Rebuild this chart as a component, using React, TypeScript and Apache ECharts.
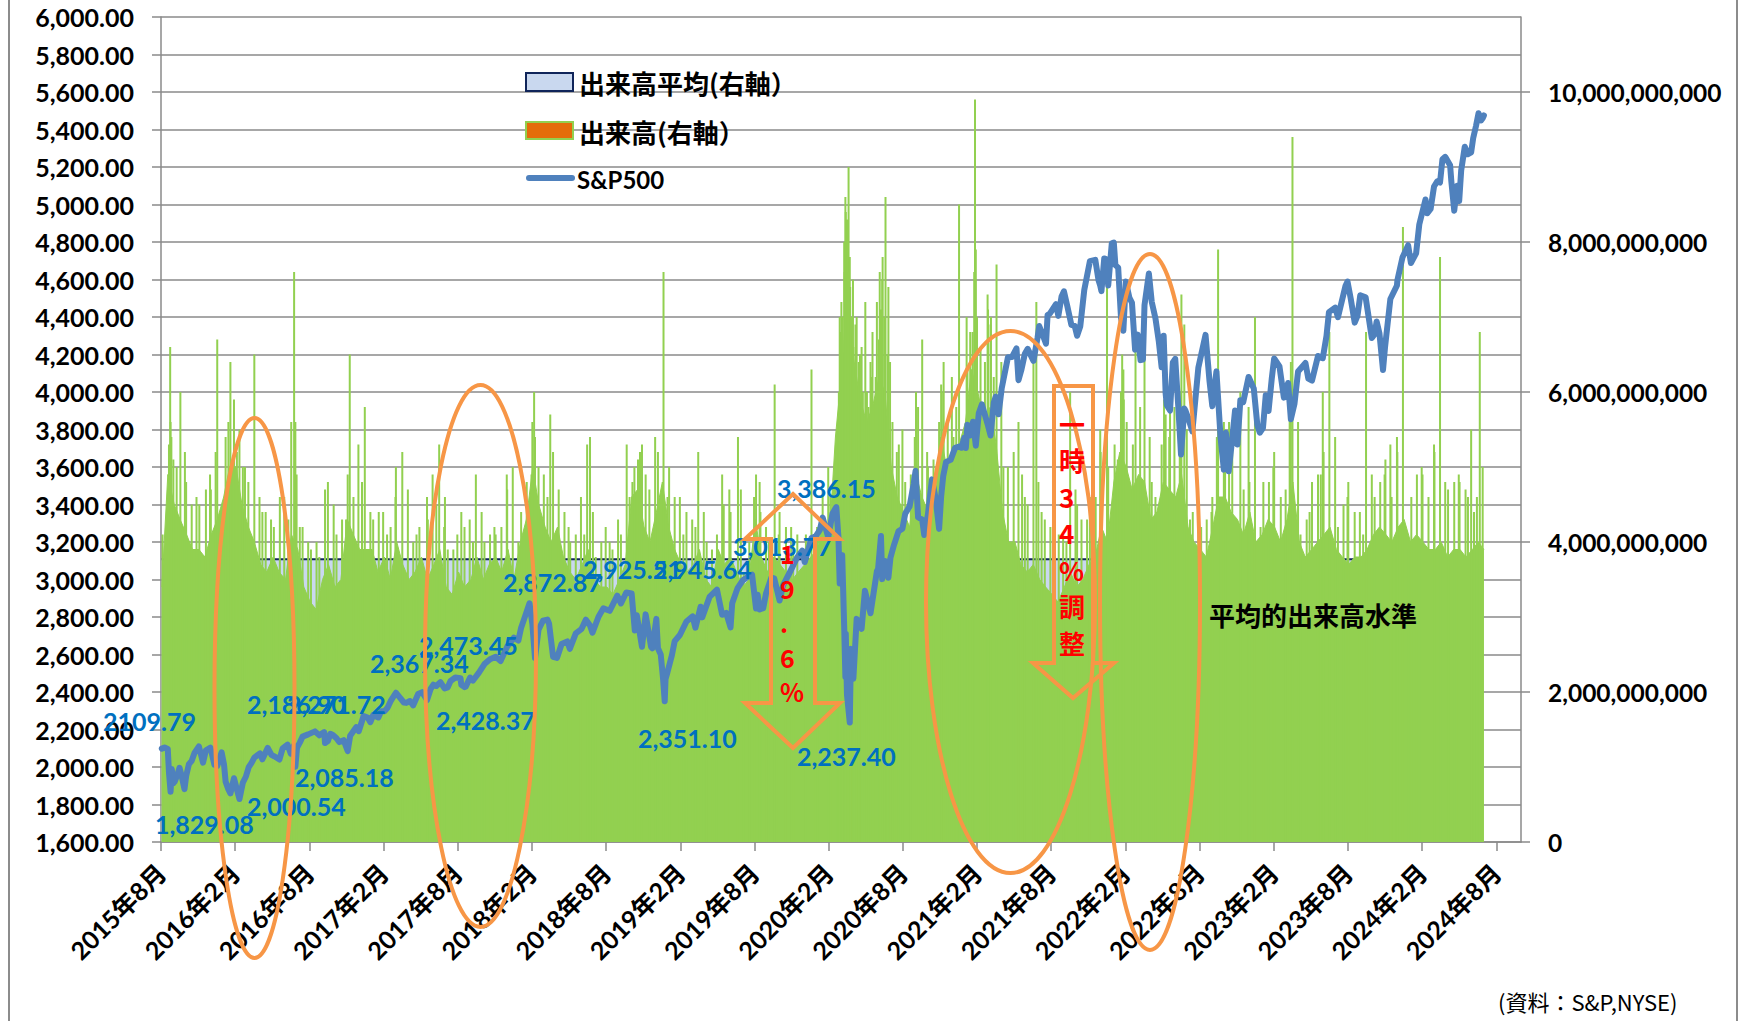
import React, { useEffect, useRef } from 'react';
import * as echarts from 'echarts';

// ---------- tick labels ----------
const xTickLabels = [
  '2015年8月', '2016年2月', '2016年8月', '2017年2月', '2017年8月', '2018年2月', '2018年8月',
  '2019年2月', '2019年8月', '2020年2月', '2020年8月', '2021年2月', '2021年8月', '2022年2月',
  '2022年8月', '2023年2月', '2023年8月', '2024年2月', '2024年8月',
];

// ---------- S&P500 closes (date, close) ----------
const sp500: [string, number][] = [
  ['2015-08-03', 2098], ['2015-08-10', 2104], ['2015-08-18', 2096], ['2015-08-21', 1971], ['2015-08-25', 1868],
  ['2015-08-28', 1989], ['2015-09-01', 1914], ['2015-09-04', 1921], ['2015-09-11', 1961], ['2015-09-16', 1996],
  ['2015-09-22', 1943], ['2015-09-28', 1882], ['2015-10-02', 1951], ['2015-10-09', 2015], ['2015-10-16', 2033],
  ['2015-10-23', 2075], ['2015-11-03', 2110], ['2015-11-13', 2023], ['2015-11-20', 2089], ['2015-12-01', 2103],
  ['2015-12-11', 2012], ['2015-12-14', 2022], ['2015-12-18', 2005], ['2015-12-29', 2078],
  ['2016-01-04', 2013], ['2016-01-08', 1922], ['2016-01-15', 1880], ['2016-01-20', 1859], ['2016-01-29', 1940],
  ['2016-02-05', 1880], ['2016-02-11', 1829], ['2016-02-19', 1917], ['2016-02-26', 1948], ['2016-03-04', 1999],
  ['2016-03-11', 2022], ['2016-03-18', 2050], ['2016-04-01', 2073], ['2016-04-07', 2041], ['2016-04-20', 2102],
  ['2016-04-29', 2065], ['2016-05-06', 2057], ['2016-05-19', 2040], ['2016-05-27', 2099], ['2016-06-08', 2119],
  ['2016-06-16', 2071], ['2016-06-23', 2113], ['2016-06-27', 2001], ['2016-07-01', 2103], ['2016-07-08', 2130],
  ['2016-07-15', 2162], ['2016-07-29', 2174], ['2016-08-15', 2190], ['2016-08-26', 2169], ['2016-09-07', 2186],
  ['2016-09-09', 2128], ['2016-09-16', 2139], ['2016-09-22', 2177], ['2016-09-28', 2171], ['2016-10-07', 2153],
  ['2016-10-14', 2133], ['2016-10-25', 2143], ['2016-11-04', 2085], ['2016-11-10', 2167], ['2016-11-25', 2213],
  ['2016-12-01', 2191], ['2016-12-13', 2272], ['2016-12-23', 2264], ['2016-12-30', 2239],
  ['2017-01-06', 2277], ['2017-01-19', 2264], ['2017-01-26', 2297], ['2017-02-03', 2297], ['2017-02-10', 2316],
  ['2017-02-17', 2351], ['2017-03-01', 2396], ['2017-03-10', 2373], ['2017-03-21', 2344], ['2017-03-27', 2342],
  ['2017-04-05', 2352], ['2017-04-13', 2329], ['2017-04-25', 2389], ['2017-05-05', 2399], ['2017-05-17', 2357],
  ['2017-05-26', 2416], ['2017-06-02', 2439], ['2017-06-09', 2432], ['2017-06-19', 2453], ['2017-06-29', 2419],
  ['2017-07-07', 2425], ['2017-07-14', 2459], ['2017-07-26', 2477], ['2017-08-08', 2474], ['2017-08-10', 2438],
  ['2017-08-18', 2426], ['2017-08-21', 2428], ['2017-09-01', 2477], ['2017-09-08', 2461], ['2017-09-22', 2502],
  ['2017-10-06', 2549], ['2017-10-20', 2575], ['2017-11-03', 2588], ['2017-11-15', 2565], ['2017-12-01', 2642],
  ['2017-12-18', 2690], ['2017-12-29', 2674],
  ['2018-01-05', 2743], ['2018-01-12', 2786], ['2018-01-26', 2873], ['2018-02-02', 2762], ['2018-02-08', 2581],
  ['2018-02-16', 2732], ['2018-02-26', 2780], ['2018-03-09', 2786], ['2018-03-13', 2765], ['2018-03-23', 2588],
  ['2018-04-02', 2582], ['2018-04-13', 2656], ['2018-04-27', 2670], ['2018-05-03', 2630], ['2018-05-18', 2713],
  ['2018-06-01', 2735], ['2018-06-12', 2786], ['2018-06-22', 2755], ['2018-06-28', 2716], ['2018-07-13', 2801],
  ['2018-07-25', 2846], ['2018-08-10', 2833], ['2018-08-29', 2914], ['2018-09-07', 2872], ['2018-09-20', 2931],
  ['2018-10-03', 2926], ['2018-10-11', 2728], ['2018-10-16', 2809], ['2018-10-29', 2641], ['2018-11-07', 2814],
  ['2018-11-20', 2642], ['2018-11-23', 2633], ['2018-12-03', 2790], ['2018-12-07', 2633], ['2018-12-14', 2600],
  ['2018-12-20', 2467], ['2018-12-24', 2351], ['2018-12-26', 2468], ['2018-12-31', 2507],
  ['2019-01-11', 2596], ['2019-01-18', 2671], ['2019-01-31', 2704], ['2019-02-15', 2776], ['2019-03-01', 2803],
  ['2019-03-08', 2743], ['2019-03-21', 2855], ['2019-03-25', 2798], ['2019-04-12', 2907], ['2019-04-30', 2946],
  ['2019-05-13', 2812], ['2019-05-23', 2822], ['2019-06-03', 2744], ['2019-06-07', 2873], ['2019-06-20', 2954],
  ['2019-07-03', 2996], ['2019-07-15', 3014], ['2019-07-26', 3026], ['2019-08-05', 2845], ['2019-08-09', 2919],
  ['2019-08-14', 2840], ['2019-08-23', 2847], ['2019-08-30', 2926], ['2019-09-12', 3010], ['2019-09-19', 3006],
  ['2019-10-02', 2888], ['2019-10-11', 2970], ['2019-10-28', 3040], ['2019-11-15', 3120], ['2019-11-27', 3154],
  ['2019-12-03', 3093], ['2019-12-20', 3221], ['2019-12-31', 3231],
  ['2020-01-10', 3265], ['2020-01-17', 3330], ['2020-01-31', 3226], ['2020-02-10', 3352], ['2020-02-19', 3386],
  ['2020-02-24', 3226], ['2020-02-27', 2979], ['2020-03-04', 3130], ['2020-03-09', 2747], ['2020-03-12', 2481],
  ['2020-03-13', 2711], ['2020-03-16', 2386], ['2020-03-23', 2237], ['2020-03-26', 2630], ['2020-04-01', 2471],
  ['2020-04-09', 2790], ['2020-04-21', 2737], ['2020-04-29', 2940], ['2020-05-13', 2820], ['2020-05-29', 3044],
  ['2020-06-01', 3056], ['2020-06-08', 3232], ['2020-06-11', 3002], ['2020-06-19', 3098], ['2020-06-26', 3009],
  ['2020-07-01', 3116], ['2020-07-10', 3185], ['2020-07-21', 3257], ['2020-07-31', 3271], ['2020-08-07', 3351],
  ['2020-08-18', 3390], ['2020-08-28', 3508], ['2020-09-02', 3580], ['2020-09-08', 3332], ['2020-09-18', 3319],
  ['2020-09-23', 3237], ['2020-10-02', 3348], ['2020-10-12', 3534], ['2020-10-21', 3436], ['2020-10-30', 3270],
  ['2020-11-04', 3443], ['2020-11-09', 3551], ['2020-11-16', 3627], ['2020-11-27', 3638], ['2020-12-08', 3702],
  ['2020-12-18', 3709], ['2020-12-24', 3703], ['2020-12-31', 3756],
  ['2021-01-04', 3701], ['2021-01-08', 3825], ['2021-01-15', 3768], ['2021-01-22', 3841], ['2021-01-27', 3751],
  ['2021-01-29', 3714], ['2021-02-05', 3887], ['2021-02-12', 3934], ['2021-02-25', 3829], ['2021-03-04', 3768],
  ['2021-03-12', 3943], ['2021-03-17', 3975], ['2021-03-24', 3881], ['2021-04-01', 4020], ['2021-04-16', 4185],
  ['2021-04-26', 4187], ['2021-05-07', 4233], ['2021-05-12', 4063], ['2021-05-19', 4116], ['2021-05-28', 4204],
  ['2021-06-04', 4230], ['2021-06-18', 4166], ['2021-06-28', 4291], ['2021-07-02', 4352], ['2021-07-08', 4320],
  ['2021-07-19', 4258], ['2021-07-23', 4411], ['2021-07-29', 4419], ['2021-08-13', 4468], ['2021-08-19', 4406],
  ['2021-08-27', 4509], ['2021-09-02', 4537], ['2021-09-10', 4459], ['2021-09-20', 4358], ['2021-09-28', 4353],
  ['2021-10-04', 4300], ['2021-10-12', 4351], ['2021-10-22', 4545], ['2021-11-05', 4698], ['2021-11-18', 4705],
  ['2021-11-26', 4595], ['2021-11-30', 4567], ['2021-12-03', 4538], ['2021-12-10', 4712], ['2021-12-15', 4709],
  ['2021-12-20', 4568], ['2021-12-29', 4793],
  ['2022-01-03', 4797], ['2022-01-07', 4677], ['2022-01-14', 4663], ['2022-01-21', 4398], ['2022-01-27', 4327],
  ['2022-02-02', 4589], ['2022-02-10', 4504], ['2022-02-16', 4475], ['2022-02-23', 4226], ['2022-03-01', 4306],
  ['2022-03-08', 4170], ['2022-03-14', 4173], ['2022-03-18', 4463], ['2022-03-29', 4632], ['2022-04-05', 4481],
  ['2022-04-14', 4393], ['2022-04-22', 4272], ['2022-04-29', 4132], ['2022-05-04', 4300], ['2022-05-09', 3991],
  ['2022-05-12', 3930], ['2022-05-20', 3901], ['2022-05-27', 4158], ['2022-06-02', 4177], ['2022-06-10', 3901],
  ['2022-06-16', 3667], ['2022-06-24', 3912], ['2022-06-27', 3900], ['2022-07-06', 3845], ['2022-07-14', 3790],
  ['2022-07-29', 4130], ['2022-08-16', 4305], ['2022-08-26', 4058], ['2022-09-02', 3924], ['2022-09-12', 4110],
  ['2022-09-22', 3758], ['2022-09-30', 3586], ['2022-10-05', 3783], ['2022-10-12', 3577], ['2022-10-21', 3752],
  ['2022-10-28', 3901], ['2022-11-03', 3720], ['2022-11-10', 3956], ['2022-11-17', 3946], ['2022-11-30', 4080],
  ['2022-12-01', 4076], ['2022-12-13', 4019], ['2022-12-22', 3822], ['2022-12-28', 3783],
  ['2023-01-05', 3808], ['2023-01-12', 3983], ['2023-01-19', 3899], ['2023-01-27', 4070], ['2023-02-02', 4179],
  ['2023-02-14', 4136], ['2023-02-24', 3970], ['2023-03-06', 4048], ['2023-03-08', 3992], ['2023-03-13', 3855],
  ['2023-03-22', 3937], ['2023-03-31', 4109], ['2023-04-18', 4155], ['2023-04-25', 4071], ['2023-05-04', 4061],
  ['2023-05-19', 4192], ['2023-05-31', 4180], ['2023-06-09', 4299], ['2023-06-15', 4426], ['2023-06-30', 4450],
  ['2023-07-07', 4399], ['2023-07-26', 4567], ['2023-07-31', 4589], ['2023-08-08', 4499], ['2023-08-18', 4370],
  ['2023-08-25', 4406], ['2023-09-01', 4516], ['2023-09-14', 4505], ['2023-09-29', 4288], ['2023-10-06', 4308],
  ['2023-10-11', 4376], ['2023-10-18', 4314], ['2023-10-27', 4117], ['2023-11-01', 4237], ['2023-11-14', 4496],
  ['2023-11-30', 4568], ['2023-12-01', 4595], ['2023-12-14', 4719], ['2023-12-28', 4783],
  ['2024-01-04', 4688], ['2024-01-17', 4739], ['2024-01-25', 4894], ['2024-02-09', 5027], ['2024-02-13', 4953],
  ['2024-02-21', 4976], ['2024-02-29', 5096], ['2024-03-08', 5124], ['2024-03-15', 5117], ['2024-03-21', 5241],
  ['2024-03-28', 5254], ['2024-04-09', 5209], ['2024-04-12', 5123], ['2024-04-19', 4967], ['2024-04-26', 5100],
  ['2024-05-01', 5018], ['2024-05-06', 5181], ['2024-05-15', 5308], ['2024-05-23', 5268], ['2024-05-31', 5278],
  ['2024-06-05', 5354], ['2024-06-12', 5421], ['2024-06-18', 5487], ['2024-06-24', 5448], ['2024-06-28', 5460],
  ['2024-07-01', 5475],
];

// ---------- NYSE volume (billions of shares), typical level per half month (1st half, 2nd half) ----------
const volumeBase2015 = [3.4, 4.9, 4.5, 4.3, 4.1, 3.9, 3.9, 3.8, 4.1, 4.3];
const volumeBase2016 = [4.6, 5.0, 5.0, 4.5, 4.2, 4.0, 3.7, 3.6, 3.8, 3.6, 3.5, 4.1, 3.9, 3.4, 3.2, 3.1, 3.5, 3.7, 3.4, 3.5, 4.3, 4.1, 3.9, 3.9];
const volumeBase2017 = [3.9, 3.6, 3.8, 3.5, 4.0, 3.7, 3.5, 3.6, 3.8, 3.5, 3.7, 3.9, 3.4, 3.3, 3.6, 3.4, 3.5, 3.8, 3.5, 3.7, 3.8, 3.6, 3.9, 3.5];
const volumeBase2018 = [4.0, 4.3, 5.0, 4.5, 4.2, 4.0, 4.2, 3.8, 3.6, 3.5, 3.7, 3.9, 3.5, 3.4, 3.4, 3.3, 3.5, 3.7, 4.6, 4.7, 4.2, 4.0, 4.4, 4.8];
const volumeBase2019 = [4.2, 3.9, 3.7, 3.6, 3.7, 3.9, 3.5, 3.4, 3.9, 3.7, 3.8, 3.6, 3.4, 3.5, 4.3, 3.8, 3.6, 3.8, 3.7, 3.6, 3.5, 3.6, 3.7, 3.8];
const volumeBase2020 = [3.9, 4.3, 4.1, 5.4, 6.3, 7.4, 6.4, 5.9, 5.6, 5.8, 6.2, 6.0, 5.0, 4.6, 4.4, 4.2, 4.9, 4.6, 4.4, 4.5, 5.4, 5.0, 5.1, 5.3];
const volumeBase2021 = [5.6, 6.3, 6.0, 5.6, 5.8, 5.3, 4.4, 4.0, 4.0, 3.7, 3.6, 3.7, 3.5, 3.4, 3.3, 3.2, 3.4, 3.6, 3.4, 3.5, 3.7, 3.8, 4.2, 4.0];
const volumeBase2022 = [4.8, 5.2, 5.0, 4.7, 4.9, 4.8, 4.3, 4.4, 4.8, 4.7, 4.6, 4.9, 4.2, 4.0, 3.9, 3.8, 4.2, 4.6, 4.6, 4.4, 4.3, 4.1, 4.4, 4.0];
const volumeBase2023 = [4.1, 4.3, 4.2, 4.0, 4.3, 4.8, 4.0, 3.8, 3.9, 4.0, 4.1, 4.2, 3.9, 3.8, 3.7, 3.8, 3.8, 3.9, 4.1, 4.2, 4.1, 4.0, 4.2, 4.3];
const volumeBase2024 = [4.0, 4.1, 4.0, 3.9, 3.9, 4.0, 3.8, 3.9, 3.9, 3.8, 3.9, 4.0];
const volumeLast: [string, number] = ['2024-07-01', 3.9];

// expiry / event days with very high volume (date, billions)
const volumeSpikes: [string, number][] = [
  ['2015-08-21', 5.3], ['2015-08-24', 6.6], ['2015-08-25', 5.6], ['2015-09-01', 5.1], ['2015-09-18', 6.0],
  ['2015-10-16', 4.5], ['2015-11-20', 4.7], ['2015-12-18', 6.7],
  ['2016-01-15', 5.6], ['2016-01-20', 6.4], ['2016-02-11', 5.5], ['2016-02-19', 5.0], ['2016-03-18', 6.5],
  ['2016-04-15', 4.4], ['2016-05-20', 4.6], ['2016-06-17', 5.6], ['2016-06-24', 7.6], ['2016-06-27', 5.6],
  ['2016-07-15', 4.2], ['2016-08-19', 4.0], ['2016-09-16', 4.8], ['2016-10-21', 4.3], ['2016-11-09', 6.5],
  ['2016-11-18', 4.6], ['2016-12-16', 5.8],
  ['2017-01-20', 4.4], ['2017-02-17', 4.2], ['2017-03-17', 5.2], ['2017-04-21', 4.1], ['2017-05-19', 4.3],
  ['2017-06-16', 5.3], ['2017-06-30', 4.6], ['2017-07-21', 3.9], ['2017-08-18', 4.2], ['2017-09-15', 4.9],
  ['2017-10-20', 4.1], ['2017-11-17', 4.2], ['2017-12-15', 5.0],
  ['2018-01-19', 4.8], ['2018-02-06', 6.0], ['2018-02-08', 5.4], ['2018-02-16', 5.0], ['2018-03-16', 5.7],
  ['2018-04-20', 4.4], ['2018-05-18', 4.1], ['2018-06-15', 5.3], ['2018-06-22', 5.4], ['2018-07-20', 4.0],
  ['2018-08-17', 3.9], ['2018-09-21', 5.3], ['2018-10-10', 5.0], ['2018-10-19', 5.1], ['2018-10-24', 5.2],
  ['2018-11-16', 4.7], ['2018-12-21', 7.6],
  ['2019-01-18', 4.6], ['2019-02-15', 4.4], ['2019-03-15', 5.2], ['2019-04-18', 3.9], ['2019-05-17', 4.5],
  ['2019-06-21', 5.4], ['2019-07-19', 4.0], ['2019-08-05', 4.9], ['2019-08-16', 4.4], ['2019-09-20', 6.1],
  ['2019-10-18', 4.2], ['2019-11-15', 4.1], ['2019-12-20', 6.3],
  ['2020-01-17', 4.7], ['2020-02-21', 5.0], ['2020-02-28', 6.8], ['2020-03-09', 8.0], ['2020-03-12', 8.6],
  ['2020-03-16', 8.3], ['2020-03-20', 9.0], ['2020-03-23', 7.8], ['2020-04-06', 6.9], ['2020-04-17', 6.5],
  ['2020-05-15', 6.2], ['2020-06-11', 7.5], ['2020-06-19', 8.6], ['2020-06-26', 7.4], ['2020-07-17', 5.2],
  ['2020-08-21', 4.9], ['2020-09-18', 6.7], ['2020-10-16', 5.1], ['2020-11-09', 6.0], ['2020-11-20', 5.6],
  ['2020-12-18', 8.5],
  ['2021-01-15', 6.8], ['2021-01-27', 9.9], ['2021-01-28', 7.5], ['2021-02-19', 6.4], ['2021-03-04', 6.9],
  ['2021-03-19', 7.7], ['2021-04-16', 5.0], ['2021-05-21', 4.9], ['2021-06-18', 6.5], ['2021-06-25', 7.2],
  ['2021-07-16', 4.3], ['2021-08-20', 4.1], ['2021-09-17', 6.0], ['2021-10-15', 4.3], ['2021-11-19', 4.6],
  ['2021-12-17', 7.5],
  ['2022-01-21', 6.0], ['2022-01-24', 6.5], ['2022-02-18', 5.3], ['2022-03-18', 6.8], ['2022-04-14', 4.6],
  ['2022-05-20', 5.8], ['2022-06-17', 7.3], ['2022-06-24', 6.9], ['2022-07-15', 4.4], ['2022-08-19', 4.3],
  ['2022-09-16', 7.9], ['2022-10-21', 5.3], ['2022-11-18', 4.7], ['2022-12-16', 7.0],
  ['2023-01-20', 4.8], ['2023-02-17', 4.6], ['2023-03-13', 6.4], ['2023-03-17', 9.4], ['2023-04-21', 4.3],
  ['2023-05-19', 4.9], ['2023-05-31', 6.0], ['2023-06-16', 6.8], ['2023-07-21', 4.5], ['2023-08-18', 4.4],
  ['2023-09-15', 6.8], ['2023-10-20', 4.8], ['2023-11-17', 4.6], ['2023-11-30', 5.4], ['2023-12-15', 8.2],
  ['2024-01-19', 4.9], ['2024-02-16', 4.6], ['2024-03-15', 7.8], ['2024-04-19', 4.8], ['2024-05-17', 4.7],
  ['2024-05-31', 5.5], ['2024-06-21', 6.8], ['2024-06-28', 5.0],
];

// other active trading days above the typical level (date, billions)
const volumeActiveDays: [string, number][] = [
  ['2015-08-05', 4.1], ['2015-08-27', 5.4], ['2015-09-09', 5.0], ['2015-09-29', 5.2], ['2015-10-02', 4.8],
  ['2015-10-28', 4.6], ['2015-11-04', 4.5], ['2015-11-30', 4.9], ['2015-12-02', 4.7], ['2015-12-14', 5.2],
  ['2016-01-08', 5.4], ['2016-01-29', 5.9], ['2016-02-05', 5.2], ['2016-02-24', 5.0], ['2016-03-03', 4.8],
  ['2016-03-31', 4.6], ['2016-04-07', 4.4], ['2016-04-28', 4.3], ['2016-05-05', 4.2], ['2016-05-31', 4.6],
  ['2016-06-10', 4.3], ['2016-06-30', 4.9], ['2016-07-08', 4.2], ['2016-07-29', 4.0], ['2016-08-05', 3.9],
  ['2016-08-26', 3.8], ['2016-09-09', 4.7], ['2016-09-30', 4.5], ['2016-10-07', 4.1], ['2016-10-31', 4.3],
  ['2016-11-04', 4.9], ['2016-11-30', 5.3], ['2016-12-09', 4.8], ['2016-12-30', 4.4],
  ['2017-01-06', 4.3], ['2017-01-31', 4.4], ['2017-02-09', 4.1], ['2017-02-28', 4.6], ['2017-03-01', 5.0],
  ['2017-03-31', 4.7], ['2017-04-13', 4.0], ['2017-04-28', 4.2], ['2017-05-17', 4.6], ['2017-05-31', 4.9],
  ['2017-06-09', 4.5], ['2017-06-28', 4.2], ['2017-07-07', 3.9], ['2017-07-31', 4.1], ['2017-08-10', 4.4],
  ['2017-08-31', 4.3], ['2017-09-08', 4.0], ['2017-09-29', 4.4], ['2017-10-06', 4.0], ['2017-10-31', 4.2],
  ['2017-11-03', 4.1], ['2017-11-30', 4.9], ['2017-12-01', 4.7], ['2017-12-29', 4.0],
  ['2018-01-05', 4.4], ['2018-01-31', 4.9], ['2018-02-02', 5.6], ['2018-02-28', 4.9], ['2018-03-09', 4.6],
  ['2018-03-23', 5.2], ['2018-04-06', 4.7], ['2018-04-30', 4.2], ['2018-05-04', 4.0], ['2018-05-31', 4.6],
  ['2018-06-08', 4.1], ['2018-06-29', 4.4], ['2018-07-06', 3.8], ['2018-07-31', 4.2], ['2018-08-10', 4.0],
  ['2018-08-31', 4.3], ['2018-09-07', 4.1], ['2018-09-28', 4.6], ['2018-10-05', 4.8], ['2018-10-29', 5.3],
  ['2018-11-07', 4.9], ['2018-11-30', 5.4], ['2018-12-07', 5.2], ['2018-12-31', 4.6],
  ['2019-01-04', 5.0], ['2019-01-31', 4.6], ['2019-02-08', 4.1], ['2019-02-28', 4.3], ['2019-03-08', 4.2],
  ['2019-03-29', 4.4], ['2019-04-05', 4.0], ['2019-04-30', 4.1], ['2019-05-13', 4.9], ['2019-05-31', 4.7],
  ['2019-06-03', 4.4], ['2019-06-28', 4.7], ['2019-07-05', 3.6], ['2019-07-31', 4.6], ['2019-08-14', 4.8],
  ['2019-08-30', 4.2], ['2019-09-06', 4.0], ['2019-09-30', 4.1], ['2019-10-02', 4.4], ['2019-10-31', 4.2],
  ['2019-11-05', 4.0], ['2019-11-29', 3.4], ['2019-12-06', 4.1], ['2019-12-31', 3.9],
  ['2020-01-03', 4.2], ['2020-01-31', 5.0], ['2020-02-05', 4.6], ['2020-02-25', 6.0], ['2020-02-27', 7.0],
  ['2020-03-02', 7.2], ['2020-03-05', 7.0], ['2020-03-10', 7.6], ['2020-03-11', 7.3], ['2020-03-13', 8.4],
  ['2020-03-17', 7.9], ['2020-03-18', 8.2], ['2020-03-19', 7.6], ['2020-03-24', 7.4], ['2020-03-26', 7.0],
  ['2020-03-31', 7.5], ['2020-04-01', 6.6], ['2020-04-03', 6.2], ['2020-04-09', 7.0], ['2020-04-14', 6.4],
  ['2020-04-21', 6.6], ['2020-04-24', 6.0], ['2020-04-30', 7.2], ['2020-05-04', 6.0], ['2020-05-08', 5.8],
  ['2020-05-13', 6.4], ['2020-05-18', 6.8], ['2020-05-26', 6.2], ['2020-05-29', 7.2], ['2020-06-03', 6.7],
  ['2020-06-05', 7.6], ['2020-06-08', 7.1], ['2020-06-12', 7.8], ['2020-06-16', 7.0], ['2020-06-24', 6.5],
  ['2020-06-30', 6.4], ['2020-07-06', 5.6], ['2020-07-22', 5.3], ['2020-07-31', 5.5], ['2020-08-07', 4.8],
  ['2020-08-31', 5.4], ['2020-09-03', 6.0], ['2020-09-08', 5.8], ['2020-09-30', 5.2], ['2020-10-02', 5.0],
  ['2020-10-30', 5.6], ['2020-11-04', 6.1], ['2020-11-10', 6.4], ['2020-11-30', 6.2], ['2020-12-04', 5.4],
  ['2020-12-11', 5.8], ['2020-12-31', 4.9],
  ['2021-01-06', 7.0], ['2021-01-08', 6.3], ['2021-01-21', 6.8], ['2021-01-25', 7.6], ['2021-01-29', 7.9],
  ['2021-02-01', 7.0], ['2021-02-09', 6.6], ['2021-02-25', 7.3], ['2021-02-26', 7.1], ['2021-03-05', 7.0],
  ['2021-03-12', 6.2], ['2021-03-31', 6.4], ['2021-04-05', 5.0], ['2021-04-30', 5.2], ['2021-05-12', 5.6],
  ['2021-05-28', 4.6], ['2021-06-04', 4.5], ['2021-06-30', 4.8], ['2021-07-08', 4.4], ['2021-07-30', 4.2],
  ['2021-08-06', 3.8], ['2021-08-31', 4.1], ['2021-09-08', 4.0], ['2021-09-30', 4.7], ['2021-10-04', 4.5],
  ['2021-10-29', 4.3], ['2021-11-05', 4.6], ['2021-11-30', 5.5], ['2021-12-01', 5.2], ['2021-12-20', 5.0],
  ['2022-01-05', 5.3], ['2022-01-13', 5.1], ['2022-01-27', 6.3], ['2022-01-28', 5.9], ['2022-02-04', 5.6],
  ['2022-02-24', 6.6], ['2022-03-07', 5.8], ['2022-03-31', 5.4], ['2022-04-05', 4.8], ['2022-04-29', 5.3],
  ['2022-05-05', 5.9], ['2022-05-09', 5.7], ['2022-05-18', 5.4], ['2022-05-31', 5.8], ['2022-06-13', 6.0],
  ['2022-06-16', 5.8], ['2022-06-30', 5.5], ['2022-07-08', 4.3], ['2022-07-29', 4.5], ['2022-08-05', 4.2],
  ['2022-08-31', 4.4], ['2022-09-02', 4.6], ['2022-09-13', 5.4], ['2022-09-30', 5.6], ['2022-10-03', 5.2],
  ['2022-10-13', 5.6], ['2022-11-10', 6.0], ['2022-11-30', 5.8], ['2022-12-02', 4.8], ['2022-12-30', 4.2],
  ['2023-01-06', 4.8], ['2023-01-31', 5.0], ['2023-02-02', 5.2], ['2023-02-28', 4.7], ['2023-03-10', 5.8],
  ['2023-03-31', 5.6], ['2023-04-06', 4.1], ['2023-04-28', 4.4], ['2023-05-04', 4.8], ['2023-05-26', 4.9],
  ['2023-06-02', 5.2], ['2023-06-30', 5.4], ['2023-07-07', 4.2], ['2023-07-31', 4.6], ['2023-08-02', 4.8],
  ['2023-08-31', 4.4], ['2023-09-08', 4.1], ['2023-09-29', 4.9], ['2023-10-06', 4.6], ['2023-10-31', 4.9],
  ['2023-11-02', 5.1], ['2023-11-14', 5.3], ['2023-12-01', 5.2], ['2023-12-29', 3.9],
  ['2024-01-05', 4.6], ['2024-01-31', 5.0], ['2024-02-02', 4.9], ['2024-02-29', 5.3], ['2024-03-01', 5.2],
  ['2024-03-28', 4.8], ['2024-04-04', 4.7], ['2024-04-30', 4.9], ['2024-05-02', 4.8], ['2024-05-23', 4.6],
  ['2024-06-07', 4.4], ['2024-06-14', 4.6],
];

// average volume level (billions) and the period it is drawn for
const avgVolume = 3.77;
const avgPeriod: [string, string] = ['2015-08-03', '2024-01-12'];

// ---------- helpers ----------
const monthIndex = (d: string) => {
  const [y, m, day] = d.split('-').map(Number);
  const dim = new Date(y, m, 0).getDate();
  return (y - 2015) * 12 + (m - 8) + (day - 1) / dim;
};

const volumeBase = [
  ...volumeBase2015, ...volumeBase2016, ...volumeBase2017, ...volumeBase2018, ...volumeBase2019,
  ...volumeBase2020, ...volumeBase2021, ...volumeBase2022, ...volumeBase2023, ...volumeBase2024,
];

const NUM_FONT = 'Lato, "Noto Sans CJK JP", sans-serif';
const CJK_FONT = '"Noto Sans CJK JP", sans-serif';
const GRID_GRAY = '#8a8a8a';
const ORANGE = '#f79646';
const BLUE_TXT = '#0070c0';
const GREEN = '#92d050';

function buildOption() {
  const spData = sp500.map(([d, v]) => [monthIndex(d), v]).sort((a, b) => a[0] - b[0]);
  const baseData: number[][] = volumeBase.map((v, i) => [Math.floor(i / 2) + (i % 2 === 0 ? 0.07 : 0.55), v]);
  baseData.push([monthIndex(volumeLast[0]), volumeLast[1]]);
  const spikeData = [...volumeSpikes, ...volumeActiveDays].map(([d, v]) => [monthIndex(d), v]);
  const avgData = [[monthIndex(avgPeriod[0]), avgVolume], [monthIndex(avgPeriod[1]), avgVolume]];

  const blueLabel = (text: string, x: number, y: number) => ({
    type: 'text', x, y, z: 100, silent: true,
    style: { text, fill: BLUE_TXT, font: `bold 25px ${NUM_FONT}`, textAlign: 'left', textVerticalAlign: 'middle' },
  });
  const ellipse = (cx: number, cy: number, rx: number, ry: number) => ({
    type: 'ellipse', z: 101, silent: true, shape: { cx, cy, rx, ry },
    style: { fill: 'none', stroke: ORANGE, lineWidth: 4 },
  });

  const graphic: any[] = [
    // chart frame
    { type: 'line', z: 100, shape: { x1: 9, y1: 0, x2: 9, y2: 1021 }, style: { stroke: '#8c8c8c', lineWidth: 2 } },
    { type: 'line', z: 100, shape: { x1: 1737, y1: 0, x2: 1737, y2: 1021 }, style: { stroke: '#8c8c8c', lineWidth: 2 } },
    // legend
    { type: 'rect', z: 100, shape: { x: 526, y: 73, width: 47, height: 18 }, style: { fill: '#c9d8ef', stroke: '#10255a', lineWidth: 2 } },
    { type: 'text', z: 100, x: 579, y: 82, style: { text: '出来高平均(右軸）', fill: '#000', font: `bold 26px ${CJK_FONT}`, textAlign: 'left', textVerticalAlign: 'middle' } },
    { type: 'rect', z: 100, shape: { x: 526, y: 122, width: 47, height: 17 }, style: { fill: '#e46c0a', stroke: GREEN, lineWidth: 2 } },
    { type: 'text', z: 100, x: 579, y: 131, style: { text: '出来高(右軸）', fill: '#000', font: `bold 26px ${CJK_FONT}`, textAlign: 'left', textVerticalAlign: 'middle' } },
    { type: 'line', z: 100, shape: { x1: 529, y1: 178, x2: 572, y2: 178 }, style: { stroke: '#4f81bd', lineWidth: 6, lineCap: 'round' } },
    { type: 'text', z: 100, x: 577, y: 179, style: { text: 'S&P500', fill: '#000', font: `bold 24px ${NUM_FONT}`, textAlign: 'left', textVerticalAlign: 'middle' } },
    // value annotations
    blueLabel('2109.79', 103, 721),
    blueLabel('1,829.08', 155, 824),
    blueLabel('2,000.54', 247, 806),
    blueLabel('2,186.90', 247, 704),
    blueLabel('2,271.72', 287, 704),
    blueLabel('2,085.18', 295, 777),
    blueLabel('2,367.34', 370, 663),
    blueLabel('2,473.45', 419, 645),
    blueLabel('2,428.37', 436, 720),
    blueLabel('2,872.87', 503, 582),
    blueLabel('2,925.51', 583, 569),
    blueLabel('2,945.64', 653, 569),
    blueLabel('2,351.10', 638, 738),
    blueLabel('3,013.77', 733, 546),
    blueLabel('3,386.15', 777, 488),
    blueLabel('2,237.40', 797, 756),
    // ellipses
    ellipse(254.5, 688, 40, 270),
    ellipse(480.5, 656, 55.5, 271),
    ellipse(1010.5, 602, 84.5, 271),
    ellipse(1150, 602, 50, 348),
    // up-down arrow (19.6%)
    {
      type: 'polygon', z: 101, silent: true,
      shape: { points: [[793, 494], [840, 539], [815, 539], [815, 703], [840, 703], [793, 748], [745, 703], [771, 703], [771, 539], [745, 539]] },
      style: { fill: 'none', stroke: ORANGE, lineWidth: 4, lineJoin: 'miter' },
    },
    // down arrow (34%)
    {
      type: 'polygon', z: 101, silent: true,
      shape: { points: [[1054, 386], [1093, 386], [1093, 663], [1114, 663], [1073, 698], [1033, 663], [1054, 663]] },
      style: { fill: 'none', stroke: ORANGE, lineWidth: 4, lineJoin: 'miter' },
    },
    // red vertical texts
    { type: 'text', z: 102, x: 780, y: 536, style: { text: '1\n9\n.\n6\n%', fill: '#ff0000', font: `bold 25px ${CJK_FONT}`, lineHeight: 34.5, textAlign: 'left', textVerticalAlign: 'top' } },
    { type: 'text', z: 102, x: 1059, y: 405, style: { text: '一\n時\n3\n4\n%\n調\n整', fill: '#ff0000', font: `bold 26px ${CJK_FONT}`, lineHeight: 36.5, textAlign: 'left', textVerticalAlign: 'top' } },
    // note texts
    { type: 'text', z: 100, x: 1209, y: 614, style: { text: '平均的出来高水準', fill: '#000', font: `bold 26px ${CJK_FONT}`, textAlign: 'left', textVerticalAlign: 'middle' } },
    { type: 'text', z: 100, x: 1498, y: 1001, style: { text: '(資料：S&P,NYSE)', fill: '#000', font: `22px ${CJK_FONT}`, textAlign: 'left', textVerticalAlign: 'middle' } },
  ];

  return {
    animation: false,
    backgroundColor: '#ffffff',
    grid: { left: 161, right: 222, top: 17, bottom: 179, containLabel: false },
    xAxis: {
      type: 'value', min: 0, max: 110, interval: 6,
      splitLine: { show: false },
      axisLine: { show: true, lineStyle: { color: GRID_GRAY, width: 1.5 } },
      axisTick: { show: true, length: 9, lineStyle: { color: GRID_GRAY, width: 1.5 }, customValues: xTickLabels.map((_, i) => i * 6) },
      axisLabel: {
        rotate: 45, margin: 26, color: '#000', fontFamily: NUM_FONT, fontSize: 25, fontWeight: 'bold',
        customValues: xTickLabels.map((_, i) => i * 6),
        formatter: (v: number) => {
          const i = Math.round(v / 6);
          if (Math.abs(v - i * 6) > 0.01) return '';
          return xTickLabels[i] ?? '';
        },
      },
    },
    yAxis: [
      {
        type: 'value', position: 'left', min: 1600, max: 6000, interval: 200,
        axisLine: { show: true, lineStyle: { color: GRID_GRAY, width: 1.5 } },
        axisTick: { show: true, length: 9, lineStyle: { color: GRID_GRAY, width: 1.5 } },
        splitLine: { show: true, lineStyle: { color: GRID_GRAY, width: 1.5 } },
        axisLabel: {
          margin: 27, color: '#000', fontFamily: NUM_FONT, fontSize: 25, fontWeight: 'bold',
          formatter: (v: number) => v.toLocaleString('en-US', { minimumFractionDigits: 2, maximumFractionDigits: 2 }),
        },
      },
      {
        type: 'value', position: 'right', min: 0, max: 11, interval: 2,
        axisLine: { show: true, lineStyle: { color: GRID_GRAY, width: 1.5 } },
        axisTick: { show: true, length: 9, lineStyle: { color: GRID_GRAY, width: 1.5 }, customValues: [0, 2, 4, 6, 8, 10] },
        splitLine: { show: false },
        axisLabel: {
          margin: 27, color: '#000', fontFamily: NUM_FONT, fontSize: 24.5, fontWeight: 'bold',
          customValues: [0, 2, 4, 6, 8, 10],
          formatter: (v: number) => (v > 10.5 ? '' : Math.round(v * 1e9).toLocaleString('en-US')),
        },
      },
    ],
    series: [
      {
        name: '出来高平均(右軸）', type: 'line', yAxisIndex: 1, data: avgData, symbol: 'none', showSymbol: false,
        lineStyle: { color: '#10255a', width: 2 }, areaStyle: { color: '#c9d8ef', opacity: 1 }, z: 1, silent: true,
      },
      {
        name: '出来高(右軸）', type: 'line', yAxisIndex: 1, data: baseData, symbol: 'none', showSymbol: false,
        lineStyle: { color: GREEN, width: 1 }, areaStyle: { color: GREEN, opacity: 1 }, z: 2, silent: true,
      },
      {
        name: '出来高(右軸）', type: 'bar', yAxisIndex: 1, data: spikeData, barWidth: 2,
        itemStyle: { color: GREEN }, z: 2, silent: true,
      },
      {
        name: 'S&P500', type: 'line', yAxisIndex: 0, data: spData, symbol: 'none', showSymbol: false,
        lineStyle: { color: '#4f81bd', width: 6, cap: 'round', join: 'round' }, z: 3, silent: true,
      },
    ],
    graphic,
  };
}

export default function App() {
  const ref = useRef<HTMLDivElement>(null);
  useEffect(() => {
    if (!ref.current) return;
    const chart = echarts.init(ref.current, null, { renderer: 'svg' });
    chart.setOption(buildOption() as any);
    return () => chart.dispose();
  }, []);
  return (
    <div
      ref={ref}
      style={{ position: 'fixed', left: 0, top: 0, width: 1743, height: 1021, background: '#ffffff' }}
    />
  );
}
